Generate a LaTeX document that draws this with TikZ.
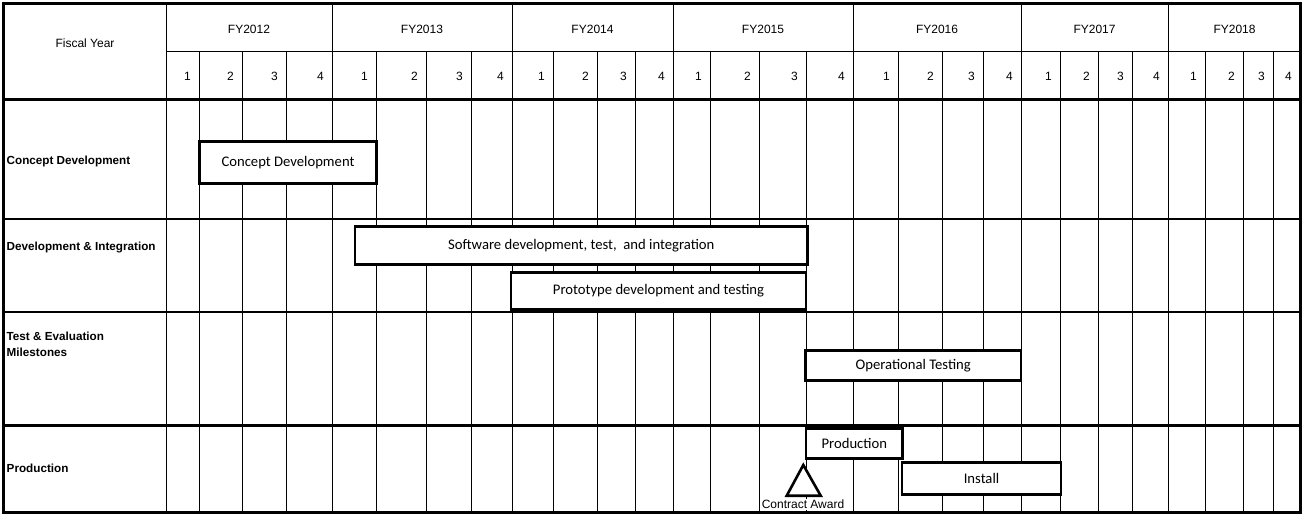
\documentclass[tikz,border=0pt]{standalone}
\usepackage{fontspec}
\setmainfont{Liberation Sans}
\newfontfamily\barfont{Carlito}
\begin{document}
\begin{tikzpicture}[x=1pt,y=-1pt,
  thingrid/.style={line width=1pt},
  rowrule/.style={line width=2.2pt},
  frame/.style={line width=3pt},
  headtext/.style={inner sep=0pt, font=\fontsize{12}{14}\selectfont},
  quarter/.style={headtext, anchor=east},
  rowlabel/.style={inner sep=0pt, anchor=west, align=left, font=\bfseries\fontsize{11.7}{15.6}\selectfont},
  taskbar/.style={draw, line width=2.8pt, inner sep=0pt, fill=white,
    font=\barfont\fontsize{14.67}{17}\selectfont},
  milestone/.style={line width=2.6pt, line join=miter, fill=white}
]
\useasboundingbox (0,0) rectangle (1305,516);

% quarter rules (header sub-row and body)
\foreach \x in {199,242,286,376,426,471,553,597,635,710,759,806,898,942,983,1060,1098,1132,1205,1243,1273}
  \draw[thingrid] (\x,52) -- (\x,512.5);
% label column and fiscal year rules
\foreach \x in {166,332,512,673,853,1021,1168}
  \draw[thingrid] (\x,4) -- (\x,512.5);
% header divider between years and quarters
\draw[thingrid] (166,52) -- (1300.5,52);
% row separators
\draw[line width=2.6pt] (3.5,99.5) -- (1300.5,99.5);
\foreach \y in {219,312,425.5}
  \draw[rowrule] (3.5,\y) -- (1300.5,\y);

% header text
\node[headtext] (fy) at (85,43) {Fiscal Year};
\node[headtext] (y12) at (249,29) {FY2012};
\node[headtext] (y13) at (422,29) {FY2013};
\node[headtext] (y14) at (592.5,29) {FY2014};
\node[headtext] (y15) at (763,29) {FY2015};
\node[headtext] (y16) at (937,29) {FY2016};
\node[headtext] (y17) at (1094.5,29) {FY2017};
\node[headtext] (y18) at (1234.5,29) {FY2018};

% quarter numbers, right aligned in their cells
\foreach \x/\q [count=\i] in {199/1,242/2,286/3,332/4,376/1,426/2,471/3,512/4,
  553/1,597/2,635/3,673/4,710/1,759/2,806/3,853/4,898/1,942/2,983/3,1021/4,
  1060/1,1098/2,1132/3,1168/4,1205/1,1243/2,1273/3,1300/4}
  \node[quarter] (q\i) at (\x-8,76) {\q};

% row labels
\node[rowlabel] (r1) at (6.5,161.5) {Concept Development};
\node[rowlabel] (r2) at (6.5,247.5) {Development \& Integration};
\node[rowlabel] (r3) at (6.5,344.5) {Test \& Evaluation\\Milestones};
\node[rowlabel] (r4) at (6.5,468) {Production};

% task bars
\node[taskbar, minimum width=177.4, minimum height=41.6] (concept) at (288,162.5) {Concept Development};
\node[taskbar, minimum width=452.7, minimum height=37.6] (software) at (581.3,245.5) {Software development, test,\ \ and integration};
\node[taskbar, minimum width=295, minimum height=36.6] (proto) at (658.5,291) {Prototype development and testing};
\node[taskbar, minimum width=215.7, minimum height=30] (optest) at (913.2,365.7) {Operational Testing};
\node[taskbar, minimum width=96.7, minimum height=30.4] (prod) at (854.3,443.5) {Production};
\node[taskbar, minimum width=159, minimum height=32] (install) at (981.5,478.3) {Install};

% contract award milestone
\coordinate (apex) at (803.3,465);
\coordinate (baseL) at (786.7,495.7);
\coordinate (baseR) at (820.7,495.7);
\draw[milestone] (apex) -- (baseR) -- (baseL) -- cycle;
\node[headtext, fill=white, inner sep=0.6pt] (award) at (803,504.5) {Contract Award};

% outer frame
\draw[frame] (3.5,4) rectangle (1300.5,512.5);
\end{tikzpicture}
\end{document}
